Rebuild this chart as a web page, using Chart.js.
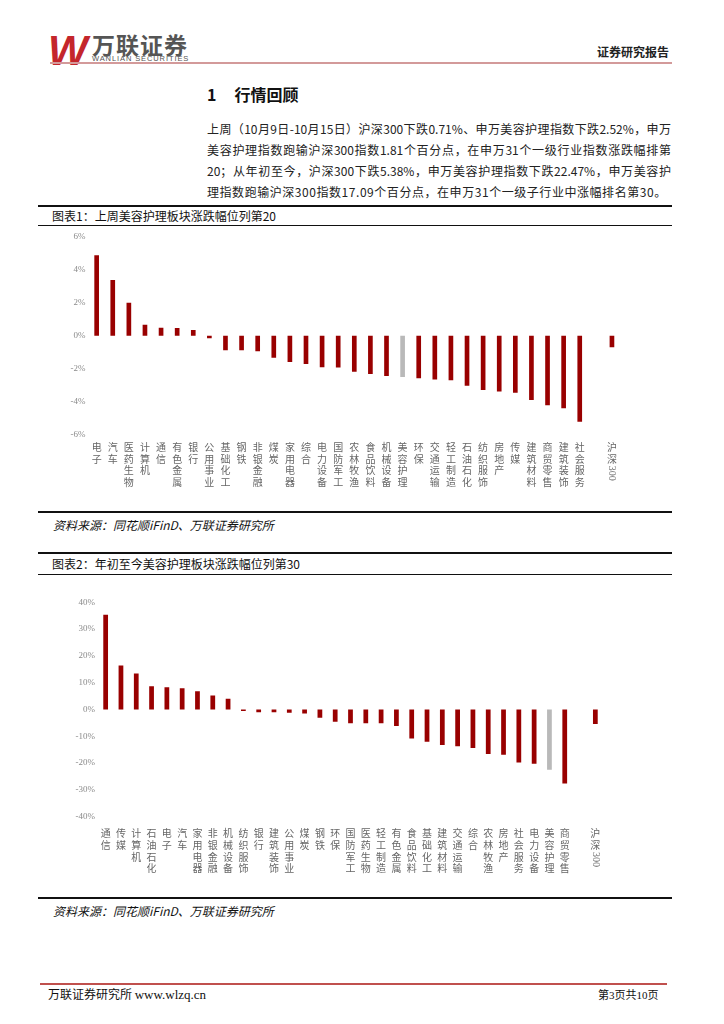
<!DOCTYPE html>
<html>
<head>
<meta charset="utf-8">
<script src="https://cdn.jsdelivr.net/npm/chart.js"></script>
<style>
  html, body { margin: 0; padding: 0; background: #fff; }
  body { width: 724px; height: 1024px; position: relative; overflow: hidden;
         font-family: "Noto Sans CJK SC", "Noto Sans", sans-serif; color: #111; }
  .abs { position: absolute; }
  .line { position: absolute; height: 0; }
  .para { position: absolute; left: 207px; width: 464px; font-size: 12px; line-height: 14px;
          color: #222; white-space: nowrap; }
  .just { text-align: justify; text-align-last: justify; white-space: normal; }
  .boxtitle { position: absolute; left: 52px; font-size: 12px; color: #111; line-height: 14px; }
  .source { position: absolute; left: 53px; font-size: 12px; font-style: italic; color: #111; line-height: 14px; }
  canvas { position: absolute; }
</style>
</head>
<body>
<!-- header -->
<div class="abs" style="left:48px;top:27px;font:italic bold 42px 'Liberation Sans';color:#c4262c;letter-spacing:-4px;">W</div>
<div class="abs" style="left:92px;top:31px;font-size:23px;font-weight:bold;color:#555;letter-spacing:1px;line-height:26px;">万联证券</div>
<div class="abs" style="left:92px;top:54px;font:7.5px 'Liberation Sans';color:#555;letter-spacing:0.9px;">WANLIAN SECURITIES</div>
<div class="abs" style="left:597px;top:45px;font-size:12px;font-weight:bold;color:#222;line-height:14px;">证券研究报告</div>
<div class="line" style="left:50px;top:62px;width:622px;border-top:2px solid #d39a9a;"></div>

<!-- section -->
<div class="abs" style="left:207px;top:84px;font-size:16px;font-weight:bold;line-height:20px;">1<span style="margin-left:18px;">行情回顾</span></div>
<div class="para just" style="top:122px;">上周（10月9日-10月15日）沪深300下跌0.71%、申万美容护理指数下跌2.52%，申万</div>
<div class="para just" style="top:143px;">美容护理指数跑输沪深300指数1.81个百分点，在申万31个一级行业指数涨跌幅排第</div>
<div class="para just" style="top:164px;">20；从年初至今，沪深300下跌5.38%，申万美容护理指数下跌22.47%，申万美容护</div>
<div class="para" style="top:185px;width:auto;letter-spacing:0.55px;">理指数跑输沪深300指数17.09个百分点，在申万31个一级子行业中涨幅排名第30。</div>

<!-- chart 1 -->
<div class="line" style="left:38px;top:205px;width:634px;border-top:2.5px solid #111;"></div>
<div class="boxtitle" style="top:209px;">图表1：上周美容护理板块涨跌幅位列第20</div>
<div class="line" style="left:38px;top:225px;width:634px;border-top:1.5px solid #111;"></div>
<canvas id="c1" style="left:40px;top:228px;width:632px;height:282px;" width="632" height="282"></canvas>
<div class="line" style="left:38px;top:511px;width:634px;border-top:2.5px solid #111;"></div>
<div class="source" style="top:518px;">资料来源：同花顺iFinD、万联证券研究所</div>

<!-- chart 2 -->
<div class="line" style="left:38px;top:552px;width:634px;border-top:2.5px solid #111;"></div>
<div class="boxtitle" style="top:557px;">图表2：年初至今美容护理板块涨跌幅位列第30</div>
<div class="line" style="left:38px;top:574px;width:634px;border-top:1.5px solid #111;"></div>
<canvas id="c2" style="left:40px;top:576px;width:632px;height:320px;" width="632" height="320"></canvas>
<div class="line" style="left:38px;top:897px;width:634px;border-top:2.5px solid #111;"></div>
<div class="source" style="top:904px;">资料来源：同花顺iFinD、万联证券研究所</div>

<!-- footer -->
<div class="line" style="left:40px;top:983px;width:627px;border-top:2.5px solid #c0504d;"></div>
<div class="abs" style="left:48px;top:987px;font-size:12px;line-height:14px;color:#111;">万联证券研究所 <span style="font-family:'Liberation Serif';font-size:13px;">www.wlzq.cn</span></div>
<div class="abs" style="left:598px;top:988px;font-size:11px;line-height:13px;color:#111;">第<span style="font-family:'Liberation Serif'">3</span>页共<span style="font-family:'Liberation Serif'">10</span>页</div>

<script>
// week (10/9 - 10/15) change by Shenwan level-1 industry, %
const weekCategories = ['电子','汽车','医药生物','计算机','通信','有色金属','银行','公用事业','基础化工','钢铁',
  '非银金融','煤炭','家用电器','综合','电力设备','国防军工','农林牧渔','食品饮料','机械设备','美容护理',
  '环保','交通运输','轻工制造','石油石化','纺织服饰','房地产','传媒','建筑材料','商贸零售','建筑装饰',
  '社会服务','','沪深300'];
const weekValues = [4.89, 3.39, 2.0, 0.67, 0.48, 0.46, 0.34, -0.16, -0.89, -0.89,
  -0.95, -1.35, -1.6, -1.72, -1.92, -1.94, -2.2, -2.34, -2.46, -2.52,
  -2.59, -2.67, -2.71, -3.05, -3.31, -3.39, -3.47, -3.92, -4.24, -4.42,
  -5.23, null, -0.71];
const weekTicks = [-6, -4, -2, 0, 2, 4, 6];

// year to date change, %
const ytdCategories = ['通信','传媒','计算机','石油石化','电子','汽车','家用电器','非银金融','机械设备','纺织服饰',
  '银行','建筑装饰','公用事业','煤炭','钢铁','环保','国防军工','医药生物','轻工制造','有色金属',
  '食品饮料','基础化工','建筑材料','交通运输','综合','农林牧渔','房地产','社会服务','电力设备','美容护理',
  '商贸零售','','沪深300'];
const ytdValues = [35.4, 16.4, 13.4, 8.7, 8.3, 7.9, 6.8, 5.2, 4.0, -0.6,
  -1.0, -1.0, -1.2, -1.5, -3.1, -4.6, -5.1, -5.1, -5.1, -6.2,
  -10.8, -12.0, -13.2, -13.7, -14.4, -16.6, -16.9, -19.8, -20.2, -22.47,
  -27.6, null, -5.38];
const ytdTicks = [-40, -30, -20, -10, 0, 10, 20, 30, 40];

const highlight = '美容护理';
const index = '沪深300';
const RED = '#990000', GREY = '#b9b9b9';
const CJK = '"Noto Sans CJK SC", sans-serif';
const LH = 11.7;

// 沪深 stacked, 300 turned on its side, like the original
const indexLabel = {
  id: 'indexLabel',
  afterDraw(chart, args, opts) {
    const xs = chart.scales.x;
    const i = chart.data.labels.findIndex((l, k) => opts.cats[k] === index);
    if (i < 0) return;
    const ctx = chart.ctx, x = xs.getPixelForValue(i);
    let y = xs.top + opts.pad;
    ctx.save();
    ctx.fillStyle = '#666';
    ctx.font = '10px ' + CJK;
    ctx.textAlign = 'center';
    ctx.textBaseline = 'middle';
    ctx.fillText('沪', x, y + LH / 2);
    ctx.fillText('深', x, y + LH * 1.5);
    ctx.translate(x, y + LH * 2 + 1);
    ctx.rotate(Math.PI / 2);
    ctx.textAlign = 'left';
    ctx.font = '10px "Liberation Serif", serif';
    ctx.fillText('300', 0, 0);
    ctx.restore();
  }
};

function makeBar(id, cats, vals, ticks, box) {
  // labels written vertically, one character per line
  const labels = cats.map(c => (c === '' || c === index) ? [''] : c.split(''));
  new Chart(document.getElementById(id), {
    type: 'bar',
    data: {
      labels,
      datasets: [{
        data: vals,
        backgroundColor: cats.map(c => c === highlight ? GREY : RED),
        barPercentage: box.bar,
        categoryPercentage: 1
      }]
    },
    plugins: [indexLabel],
    options: {
      responsive: false,
      animation: false,
      layout: { padding: { top: box.top, right: box.right, left: 0, bottom: 0 } },
      plugins: {
        legend: { display: false },
        tooltip: { enabled: false },
        indexLabel: { cats, pad: box.xpad }
      },
      scales: {
        x: {
          grid: { display: false, drawTicks: false },
          border: { display: false },
          afterFit: s => { s.height = box.xh; },
          ticks: { autoSkip: false, maxRotation: 0, minRotation: 0, padding: box.xpad, color: '#666',
                   font: { family: CJK, size: 10, lineHeight: 1.17 } }
        },
        y: {
          min: ticks[0], max: ticks[ticks.length - 1],
          afterBuildTicks: s => { s.ticks = ticks.map(v => ({ value: v })); },
          afterFit: s => { s.width = box.yw; },
          grid: { display: false, drawTicks: false },
          border: { display: false },
          ticks: { padding: 3, color: '#8a8a8a', font: { family: '"Liberation Serif", serif', size: 9 },
                   callback: v => v + '%' }
        }
      }
    }
  });
}

makeBar('c1', weekCategories, weekValues, weekTicks, { top: 9, right: 52, yw: 48.6, xh: 75.7, xpad: 7, bar: 0.29 });
makeBar('c2', ytdCategories, ytdValues, ytdTicks, { top: 26.3, right: 69, yw: 58, xh: 79.3, xpad: 11, bar: 0.31 });
</script>
</body>
</html>
